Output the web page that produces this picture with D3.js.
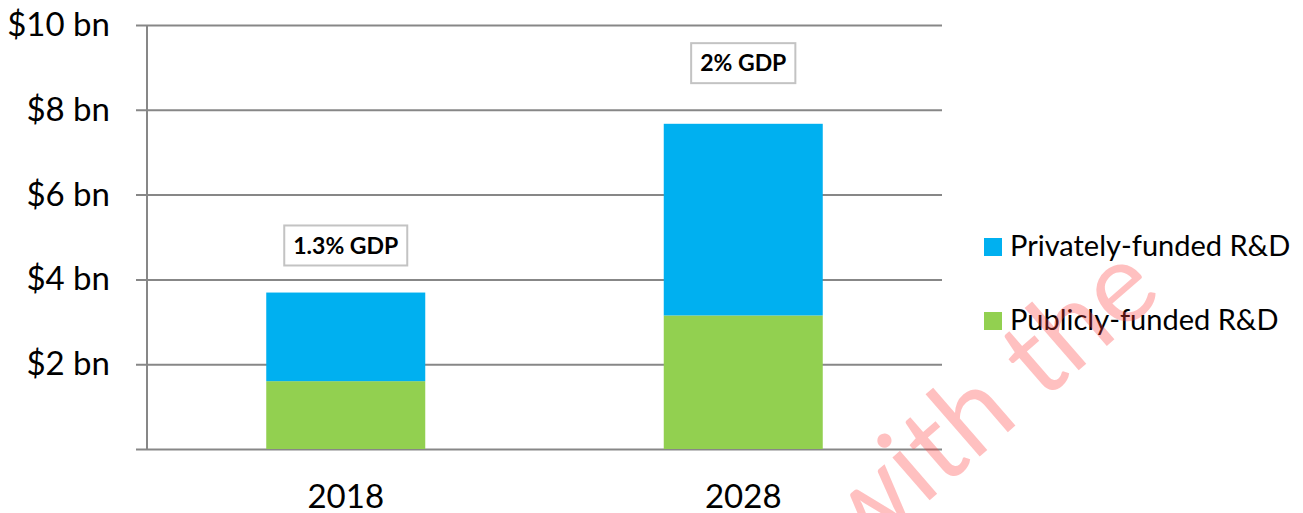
<!DOCTYPE html>
<html>
<head>
<meta charset="utf-8">
<script src="https://cdn.jsdelivr.net/npm/d3@7"></script>
<style>
    body { margin: 0; background: #fff; }
    svg { display: block; font-family: Lato, "Open Sans", sans-serif; }
</style>
</head>
<body>
<div id="chart"></div>
<script>
// ---- data ($ bn) ----
const years = ["2018", "2028"];
const publicRD = [1.6, 3.15];
const privateRD = [2.09, 4.52];
const gdpLabels = ["1.3% GDP", "2% GDP"];
const gdpLabelAt = [4.8, 9.1];   // where the GDP call-outs sit, in $ bn
const yTicks = [2, 4, 6, 8, 10];
const seriesNames = ["Privately-funded R&D", "Publicly-funded R&D"];
const seriesColors = ["#00b0f0", "#92d050"];

const width = 1303;
const height = 513;
const margin = { top: 25, right: 361, bottom: 64, left: 147 };
const innerWidth = width - margin.left - margin.right;
const innerHeight = height - margin.top - margin.bottom;
const font = "Lato, 'Open Sans', sans-serif";

const svg = d3.select("#chart").append("svg")
    .attr("width", width)
    .attr("height", height);

const chart = svg.append("g")
    .attr("transform", `translate(${margin.left}, ${margin.top})`);

const xScale = d3.scaleBand()
    .domain(years)
    .range([0, innerWidth]);

const yScale = d3.scaleLinear()
    .domain([0, 10])
    .range([innerHeight, 0]);

const barWidth = xScale.bandwidth() * 0.4;

// gridlines + y axis
const yAxis = d3.axisLeft(yScale)
    .tickValues([0, ...yTicks])
    .tickSize(-innerWidth)
    .tickPadding(37)
    .tickFormat(d => d === 0 ? "" : `$${d} bn`);

chart.append("g")
    .attr("class", "y-axis")
    .call(yAxis)
    .attr("font-family", font)
    .call(g => g.select(".domain").remove())
    .call(g => g.selectAll(".tick line")
        .attr("x1", -11)
        .attr("stroke", "#878787")
        .attr("stroke-width", 2))
    .call(g => g.selectAll(".tick text")
        .attr("fill", "#000")
        .style("font-size", "33px"));

chart.append("line")
    .attr("x1", 0).attr("x2", 0)
    .attr("y1", 0).attr("y2", innerHeight)
    .attr("stroke", "#878787")
    .attr("stroke-width", 2);

// x axis labels
const xAxis = d3.axisBottom(xScale).tickSize(0).tickPadding(36);
chart.append("g")
    .attr("class", "x-axis")
    .attr("transform", `translate(0, ${innerHeight})`)
    .call(xAxis)
    .attr("font-family", font)
    .call(g => g.select(".domain").remove())
    .call(g => g.selectAll(".tick text")
        .attr("fill", "#000")
        .style("font-size", "33px"));

// stacked bars
const stackRows = years.map((y, i) => ({ year: y, pub: publicRD[i], priv: privateRD[i] }));
const stacked = d3.stack().keys(["pub", "priv"])(stackRows);
const keyColor = { pub: seriesColors[1], priv: seriesColors[0] };

chart.selectAll(".series")
    .data(stacked)
    .join("g")
    .attr("class", "series")
    .attr("fill", d => keyColor[d.key])
    .selectAll("rect")
    .data(d => d)
    .join("rect")
    .attr("x", d => xScale(d.data.year) + (xScale.bandwidth() - barWidth) / 2)
    .attr("y", d => yScale(d[1]))
    .attr("width", barWidth)
    .attr("height", d => yScale(d[0]) - yScale(d[1]));

// GDP call-outs
const callouts = chart.selectAll(".callout")
    .data(years)
    .join("g")
    .attr("class", "callout")
    .attr("transform", (d, i) => `translate(${xScale(d) + xScale.bandwidth() / 2}, ${yScale(gdpLabelAt[i])})`);

callouts.append("rect")
    .attr("fill", "#fff")
    .attr("stroke", "#c3c3c3")
    .attr("stroke-width", 2);

callouts.append("text")
    .attr("text-anchor", "middle")
    .attr("dy", "0.36em")
    .style("font-size", "23px")
    .style("font-weight", "bold")
    .text((d, i) => gdpLabels[i]);

callouts.each(function() {
    const g = d3.select(this);
    const w = g.select("text").node().getComputedTextLength();
    g.select("rect")
        .attr("x", -w / 2 - 9)
        .attr("y", -20)
        .attr("width", w + 18)
        .attr("height", 40);
});

// legend
const legend = svg.append("g")
    .attr("transform", "translate(984, 238)");

const legendItems = legend.selectAll(".legend-item")
    .data(seriesNames)
    .join("g")
    .attr("class", "legend-item")
    .attr("transform", (d, i) => `translate(0, ${i * 74})`);

legendItems.append("rect")
    .attr("width", 18)
    .attr("height", 18)
    .attr("fill", (d, i) => seriesColors[i]);

legendItems.append("text")
    .attr("x", 26)
    .attr("y", 18)
    .style("font-size", "29px")
    .attr("fill", "#000")
    .text(d => d);

// watermark
svg.append("text")
    .attr("transform", "translate(985, 400) rotate(-41)")
    .attr("text-anchor", "middle")
    .attr("dy", "0.35em")
    .style("font-size", "112px")
    .style("fill", "rgba(255, 60, 60, 0.32)")
    .text("with the");
</script>
</body>
</html>
